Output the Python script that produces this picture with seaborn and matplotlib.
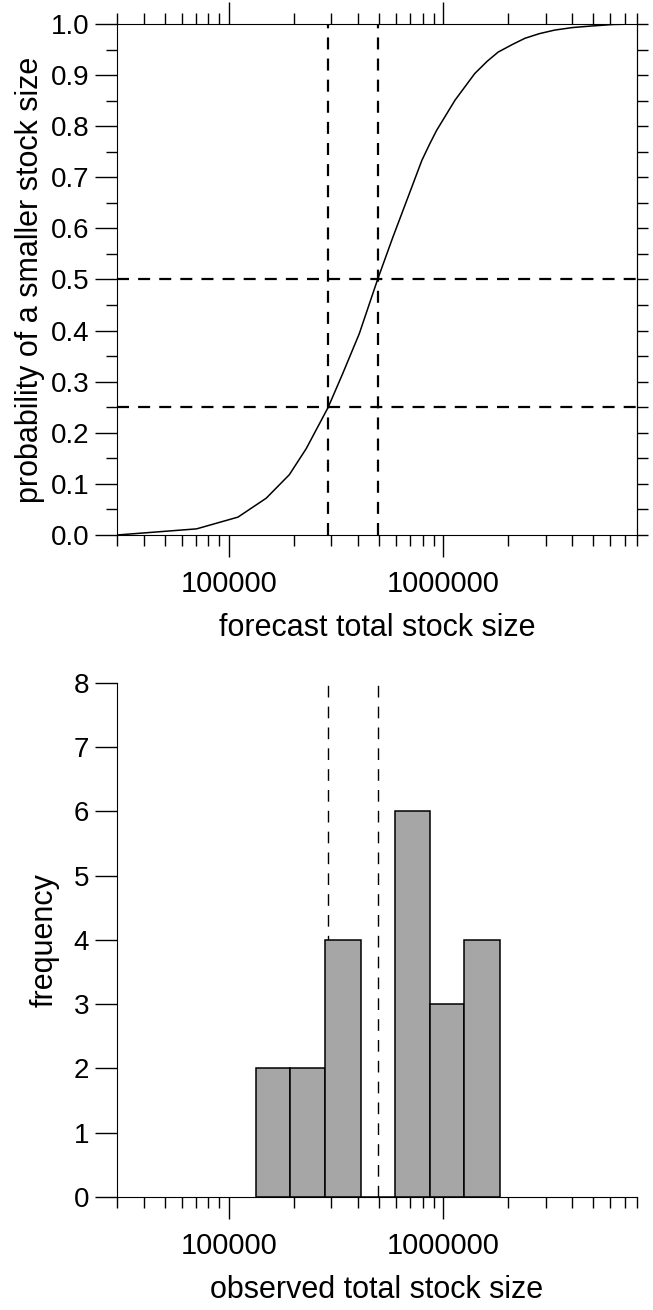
import numpy as np
import pandas as pd
import matplotlib
matplotlib.use("Agg")
import matplotlib.pyplot as plt
import seaborn as sns
from matplotlib.ticker import FixedLocator, LogLocator, NullFormatter, MultipleLocator, FuncFormatter

# ---- data ----
forecast_stock = [30000, 70500, 110000, 149000, 191000, 229000, 290000, 339000,
                  405000, 493000, 580000, 679000, 793000, 860000, 930000, 1133000,
                  1400000, 1600000, 1800000, 2100000, 2400000, 2800000, 3300000,
                  4000000, 4900000, 6200000, 8000000]
prob_smaller = [0.0, 0.012, 0.035, 0.072, 0.118, 0.169, 0.25, 0.316,
                0.394, 0.5, 0.582, 0.658, 0.733, 0.764, 0.792, 0.851,
                0.903, 0.927, 0.945, 0.96, 0.972, 0.981, 0.988,
                0.993, 0.996, 0.999, 1.0]
q25_stock = 290000
q50_stock = 493000
prob_levels = [0.25, 0.5]

bin_edges = [134000, 193000, 281000, 411000, 593000, 868000, 1252000, 1828000]
frequency = [2, 2, 4, 0, 6, 3, 4]

xtick_major = [100000, 1000000]

# ---- style ----
sns.set_style("ticks", rc={
    "axes.edgecolor": "black", "xtick.color": "black", "ytick.color": "black",
    "text.color": "black", "axes.labelcolor": "black", "axes.linewidth": 1.0,
})
plt.rcParams["font.family"] = ["Liberation Sans", "DejaVu Sans"]

fig = plt.figure(figsize=(6.53, 13.10), dpi=100)
ax1 = fig.add_axes([0.1792, 0.5916, 0.7963, 0.3901])
ax2 = fig.add_axes([0.1792, 0.08626, 0.7963, 0.39237])

XMIN, XMAX = 3e4, 8e6
plain = FuncFormatter(lambda v, p: f"{int(round(v))}")

# ---- top panel: cumulative probability ----
df = pd.DataFrame({"stock": forecast_stock, "prob": prob_smaller})
sns.lineplot(data=df, x="stock", y="prob", ax=ax1, color="black", linewidth=1.1)
ax1.set_xscale("log")
ax1.set_xlim(XMIN, XMAX)
ax1.set_ylim(0, 1)

dash_top = (0, (5.4, 4.1))
for xv in (q25_stock, q50_stock):
    ax1.axvline(xv, color="black", linewidth=1.6, linestyle=dash_top)
for yv in prob_levels:
    ax1.axhline(yv, color="black", linewidth=1.6, linestyle=dash_top)

def style_x(ax):
    ax.xaxis.set_major_locator(FixedLocator(xtick_major))
    ax.xaxis.set_major_formatter(plain)
    ax.xaxis.set_minor_locator(LogLocator(base=10, subs=np.arange(2, 10), numticks=20))
    ax.xaxis.set_minor_formatter(NullFormatter())
    ax.tick_params(axis="x", which="major", length=16, width=1.0, pad=9.5, labelsize=21)
    ax.tick_params(axis="x", which="minor", length=8, width=1.0)

style_x(ax1)
ax1.tick_params(axis="x", which="both", top=True, direction="out")
ax1.yaxis.set_major_locator(MultipleLocator(0.1))
ax1.yaxis.set_minor_locator(MultipleLocator(0.05))
ax1.yaxis.set_major_formatter(FuncFormatter(lambda v, p: f"{v:.1f}"))
ax1.tick_params(axis="y", which="major", length=16, width=1.0, pad=4, labelsize=20)
ax1.tick_params(axis="y", which="minor", length=8, width=1.0)
sec = ax1.secondary_yaxis("right")
sec.yaxis.set_major_locator(MultipleLocator(0.05))
sec.tick_params(axis="y", length=8, width=1.0, labelright=False)
ax1.set_xlabel("forecast total stock size", fontsize=22, labelpad=10.8)
ax1.set_ylabel("probability of a smaller stock size", fontsize=22, labelpad=4)

# ---- bottom panel: histogram ----
edges = [float(e) for e in bin_edges]
centers = [float(np.sqrt(a * b)) for a, b in zip(edges[:-1], edges[1:])]
hist_df = pd.DataFrame({"stock": centers, "count": frequency})
dash_bot = (0, (8.4, 6.6))
for xv in (q25_stock, q50_stock):
    ax2.axvline(xv, color="black", linewidth=1.0, linestyle=dash_bot, zorder=0.5)
sns.histplot(data=hist_df, x="stock", weights="count", bins=edges, ax=ax2,
             color="#a6a6a6", edgecolor="black", linewidth=1.1, alpha=1.0)
ax2.set_xscale("log")
ax2.set_xlim(XMIN, XMAX)
ax2.set_ylim(0, 8)
sns.despine(ax=ax2)
style_x(ax2)
ax2.yaxis.set_major_locator(MultipleLocator(1))
ax2.tick_params(axis="y", which="major", length=16, width=1.0, pad=4, labelsize=20)
ax2.set_xlabel("observed total stock size", fontsize=22, labelpad=10.8)
ax2.set_ylabel("frequency", fontsize=22, labelpad=10)

fig.savefig("out.png", dpi=100)
